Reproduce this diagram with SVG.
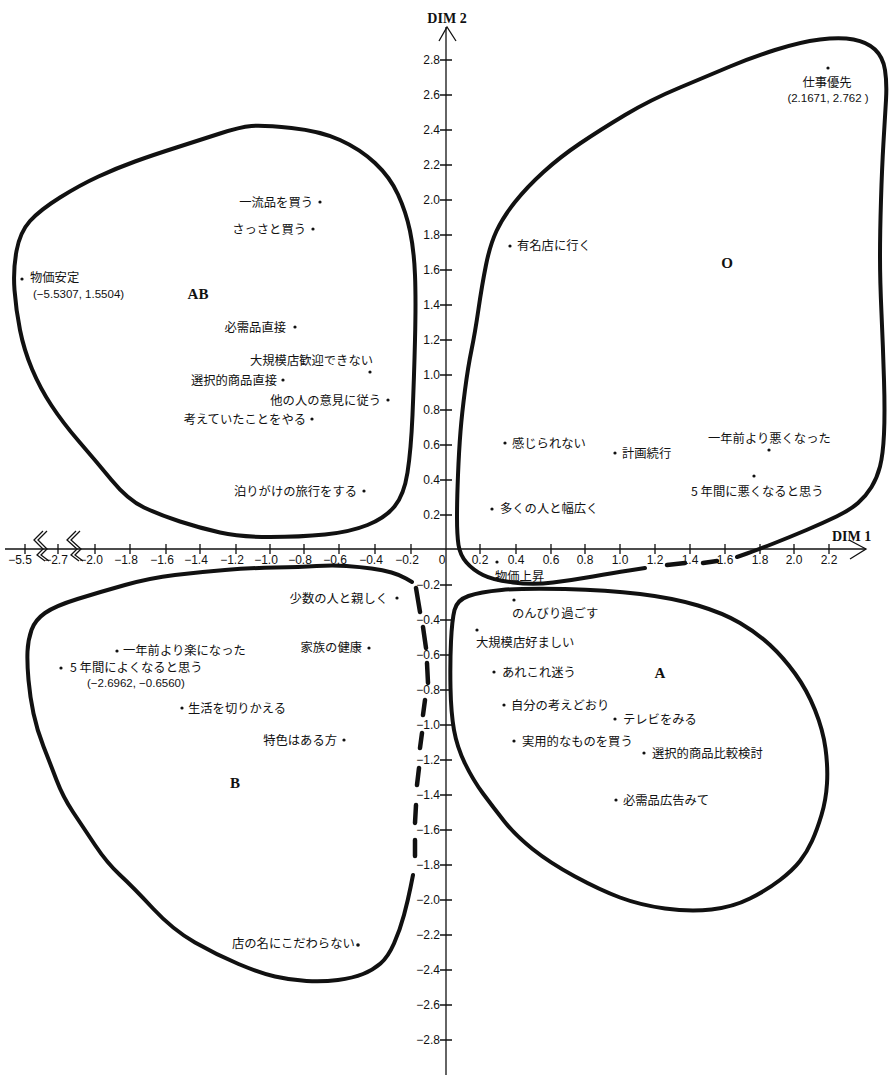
<svg xmlns="http://www.w3.org/2000/svg" width="891" height="1075" viewBox="0 0 891 1075">
<style>
.jp{font-family:"Noto Sans CJK JP","Liberation Sans",sans-serif;font-size:12.3px;fill:#111;dominant-baseline:central}
.num{font-family:"Liberation Sans","Noto Sans CJK JP",sans-serif;font-size:11.5px;fill:#111;dominant-baseline:central}
.tk{font-family:"Liberation Sans",sans-serif;font-size:12px;fill:#111;dominant-baseline:central}
.ty{text-anchor:end}
.tx{text-anchor:middle}
.big{font-family:"Liberation Serif",serif;font-weight:bold;font-size:15px;fill:#111;text-anchor:middle;dominant-baseline:central}
.dim{font-family:"Liberation Serif",serif;font-weight:bold;font-size:14px;fill:#111;dominant-baseline:central}
.ax{stroke:#111;stroke-width:1.3;fill:none}
.curve{stroke:#111;stroke-width:4;fill:none;stroke-linecap:round;stroke-linejoin:round}
.dash{stroke:#111;stroke-width:4.5;fill:none;stroke-linecap:round}
.dot{fill:#111}
.e{text-anchor:end}
.m{text-anchor:middle}
</style>
<rect width="891" height="1075" fill="#fff"/>
<g id="axes">
<line class="ax" x1="5" y1="549" x2="866" y2="549"/>
<line class="ax" x1="446" y1="27" x2="446" y2="1075"/>
<polyline class="ax" points="439,41 447,27 456,41"/>
<polyline class="ax" points="849,540 866,549 850,559"/>
<polyline class="ax" points="43,531 34,540 43,549 37,555 45,561"/>
<polyline class="ax" points="47,531 38,540 47,549 41,555 49,561"/>
<polyline class="ax" points="76,531 67,540 77,549 71,555 79,561"/>
<polyline class="ax" points="80,531 71,540 81,549 75,555 83,561"/>
<text class="dim" x="447" y="18" text-anchor="middle">DIM 2</text>
<text class="dim" x="832" y="536">DIM 1</text>
<path class="ax" d="M25,544V554M58,544V554M95,544V554M130,544V554M166,544V554M200,544V554M236,544V554M270,544V554M304,544V554M339,544V554M375,544V554M411,544V554M480,544V554M516,544V554M551,544V554M585,544V554M620,544V554M655,544V554M690,544V554M725,544V554M760,544V554M794,544V554M829,544V554"/>
<path class="ax" d="M440,60H452M440,95H452M440,130H452M440,165H452M440,200H452M440,235H452M440,270H452M440,305H452M440,340H452M440,375H452M440,410H452M440,445H452M440,480H452M440,515H452M440,585H452M440,620H452M440,655H452M440,690H452M440,725H452M440,760H452M440,795H452M440,830H452M440,865H452M440,900H452M440,935H452M440,970H452M440,1005H452M440,1040H452"/>
<g class="tk ty">
<text x="440" y="60">2.8</text><text x="440" y="95">2.6</text><text x="440" y="130">2.4</text><text x="440" y="165">2.2</text><text x="440" y="200">2.0</text><text x="440" y="235">1.8</text><text x="440" y="270">1.6</text><text x="440" y="305">1.4</text><text x="440" y="340">1.2</text><text x="440" y="375">1.0</text><text x="440" y="410">0.8</text><text x="440" y="445">0.6</text><text x="440" y="480">0.4</text><text x="440" y="515">0.2</text>
<text x="440" y="585">−0.2</text><text x="440" y="620">−0.4</text><text x="440" y="655">−0.6</text><text x="440" y="690">−0.8</text><text x="440" y="725">−1.0</text><text x="440" y="760">−1.2</text><text x="440" y="795">−1.4</text><text x="440" y="830">−1.6</text><text x="440" y="865">−1.8</text><text x="440" y="900">−2.0</text><text x="440" y="935">−2.2</text><text x="440" y="970">−2.4</text><text x="440" y="1005">−2.6</text><text x="440" y="1040">−2.8</text>
</g>
<g class="tk tx">
<text x="20" y="560">−5.5</text><text x="56" y="560">−2.7</text><text x="91" y="560">−2.0</text><text x="126" y="560">−1.8</text><text x="162" y="560">−1.6</text><text x="196" y="560">−1.4</text><text x="232" y="560">−1.2</text><text x="266" y="560">−1.0</text><text x="300" y="560">−0.8</text><text x="335" y="560">−0.6</text><text x="371" y="560">−0.4</text><text x="407" y="560">−0.2</text>
<text x="442" y="560">0</text>
<text x="480" y="560">0.2</text><text x="516" y="560">0.4</text><text x="551" y="560">0.6</text><text x="585" y="560">0.8</text><text x="620" y="560">1.0</text><text x="655" y="560">1.2</text><text x="690" y="560">1.4</text><text x="725" y="560">1.6</text><text x="760" y="560">1.8</text><text x="794" y="560">2.0</text><text x="829" y="560">2.2</text>
</g>
</g>
<g id="region-AB">
<path class="curve" d="M251.5,126 Q263,125 291.5,128 Q320,131 340,140 Q360,149 375,163 Q390,177 398,194.5 Q406,212 410,231 Q414,250 415,275 Q416,300 415,340 Q414,380 412.5,415 Q411,450 407.5,472.5 Q404,495 394.5,506.5 Q385,518 367.5,525 Q350,532 325,534.5 Q300,537 270,537 Q240,537 220,532.5 Q200,528 180,521.5 Q160,515 144,507.5 Q128,500 111.5,480 Q95,460 79,441.5 Q63,423 51.5,405.5 Q40,388 32,369 Q24,350 20,330 Q16,310 14.5,290 Q13,270 16.5,251 Q20,232 30,221 Q40,210 60,197.5 Q80,185 98.5,176.5 Q117,168 135,161.5 Q153,155 176.5,147.5 Q200,140 220,133.5 Q240,127 251.5,126 Z"/>
<text class="big" x="198" y="294">AB</text>
</g>
<g id="region-O">
<path class="curve" d="M737,557 L747,553.5 Q757,550 773.5,543.5 Q790,537 806.5,530 Q823,523 836.5,516.5 Q850,510 858,503 Q866,496 871.5,487 Q877,478 880,466.5 Q883,455 884,434 Q885,413 884,380 Q883,347 881.5,313.5 Q880,280 880,256.5 Q880,233 881,200 Q882,167 883.5,142 Q885,117 886,100 Q887,83 885,70 Q883,57 875,49.5 Q867,42 853.5,39.5 Q840,37 820,39.5 Q800,42 775,50 Q750,58 730,66.5 Q710,75 680,87.5 Q650,100 625,115 Q600,130 580,143.5 Q560,157 543.5,172 Q527,187 515,202 Q503,217 496.5,231 Q490,245 486,265 Q482,285 478.5,309 Q475,333 471.5,350 Q468,367 465,390 Q462,413 460.5,431.5 Q459,450 458,475 Q457,500 457,517.5 Q457,535 458.5,545 Q460,555 466.5,562.5 Q473,570 483,575 Q493,580 513,582.5 Q533,585 553,582.5 Q573,580 593,576.5 Q613,573 629,570.5 L645,568"/>
<path class="dash" d="M667,565 L685,563 M703,563 L717,561"/>
<text class="big" x="727" y="263">O</text>
</g>
<g id="region-A">
<path class="curve" d="M454.5,610 Q457,600 468.5,596 Q480,592 501.5,590 Q523,588 565,589 Q607,590 640,594 Q673,598 698,605.5 Q723,613 740,623 Q757,633 770,645 Q783,657 795,673.5 Q807,690 815,710 Q823,730 825.5,748.5 Q828,767 827,783.5 Q826,800 821.5,815 Q817,830 812,841 Q807,852 800,861 Q793,870 780,880 Q767,890 750,898.5 Q733,907 711.5,909.5 Q690,912 665,908.5 Q640,905 620,897.5 Q600,890 575,876.5 Q550,863 532.5,849 Q515,835 504,821 Q493,807 483,793.5 Q473,780 465,763.5 Q457,747 454,730 Q451,713 450.5,688 Q450,663 451,641.5 Q452,620 454.5,610 Z"/>
<text class="big" x="660" y="673">A</text>
</g>
<g id="region-B">
<path class="curve" d="M412,582 L406,578.5 Q400,575 391.5,572.5 Q383,570 371.5,568.5 Q360,567 346.5,566 Q333,565 316.5,566 Q300,567 275,567.5 Q250,568 225,570 Q200,572 175,575 Q150,578 125,585 Q100,592 77.5,599 Q55,606 45,613 Q35,620 31.5,630 Q28,640 27.5,651.5 Q27,663 28.5,680 Q30,697 33.5,713.5 Q37,730 43.5,746.5 Q50,763 56.5,780 Q63,797 73,812 Q83,827 95,845 Q107,863 120,875 Q133,887 153,908.5 Q173,930 195,942.5 Q217,955 238.5,964 Q260,973 275,976.5 Q290,980 306.5,981 Q323,982 338,980 Q353,978 363,974 Q373,970 380.5,963.5 Q388,957 394,943.5 Q400,930 404,915 Q408,900 410.5,887.5 L413,875"/>
<path class="dash" d="M416,588 L420,612 M423,627 L426,648 M427,663 L428,683 M425,700 L423,715 M422,733 L420,748 M419,768 L417,785 M416,805 L415,823 M415,840 L415,856"/>
<text class="big" x="235" y="783">B</text>
</g>
<g id="n-ichiryuhin"><text class="jp e" x="313" y="202">一流品を買う</text><circle class="dot" cx="320" cy="202" r="1.6"/></g>
<g id="n-sassato"><text class="jp e" x="306" y="229">さっさと買う</text><circle class="dot" cx="313" cy="229" r="1.6"/></g>
<g id="n-bukka-antei"><circle class="dot" cx="22" cy="279" r="1.6"/><text class="jp" x="30" y="277">物価安定</text><text class="num" x="33" y="294">(−5.5307, 1.5504)</text></g>
<g id="n-hitsujuhin-chokusetsu"><text class="jp e" x="286" y="327">必需品直接</text><circle class="dot" cx="295" cy="327" r="1.6"/></g>
<g id="n-daikibo-kangei"><text class="jp" x="250" y="360">大規模店歓迎できない</text><circle class="dot" cx="370" cy="372" r="1.6"/></g>
<g id="n-sentaku-chokusetsu"><text class="jp e" x="277" y="380">選択的商品直接</text><circle class="dot" cx="283" cy="380" r="1.6"/></g>
<g id="n-tanin-iken"><text class="jp e" x="381" y="400">他の人の意見に従う</text><circle class="dot" cx="388" cy="400" r="1.6"/></g>
<g id="n-kangaete"><text class="jp e" x="306" y="419">考えていたことをやる</text><circle class="dot" cx="312" cy="419" r="1.6"/></g>
<g id="n-tomarigake"><text class="jp e" x="357" y="491">泊りがけの旅行をする</text><circle class="dot" cx="364" cy="491" r="1.6"/></g>
<g id="n-shigoto"><circle class="dot" cx="828" cy="68" r="1.6"/><text class="jp m" x="827" y="82">仕事優先</text><text class="num m" x="828" y="98">(2.1671, 2.762 )</text></g>
<g id="n-yumeiten"><circle class="dot" cx="510" cy="246" r="1.6"/><text class="jp" x="517" y="245">有名店に行く</text></g>
<g id="n-kanjirarenai"><circle class="dot" cx="505" cy="443" r="1.6"/><text class="jp" x="512" y="443">感じられない</text></g>
<g id="n-keikaku"><circle class="dot" cx="615" cy="453" r="1.6"/><text class="jp" x="622" y="453">計画続行</text></g>
<g id="n-ichinen-waruku"><text class="jp" x="708" y="438">一年前より悪くなった</text><circle class="dot" cx="769" cy="450" r="1.6"/></g>
<g id="n-gonen-waruku"><circle class="dot" cx="754" cy="476" r="1.6"/><text class="jp" x="691" y="491">5 年間に悪くなると思う</text></g>
<g id="n-ooku"><circle class="dot" cx="492" cy="509" r="1.6"/><text class="jp" x="500" y="508">多くの人と幅広く</text></g>
<g id="n-bukka-josho"><circle class="dot" cx="497" cy="562" r="1.6"/><text class="jp" x="495" y="576">物価上昇</text></g>
<g id="n-nonbiri"><circle class="dot" cx="514" cy="600" r="1.6"/><text class="jp" x="512" y="613">のんびり過ごす</text></g>
<g id="n-daikibo-konomashii"><circle class="dot" cx="477" cy="630" r="1.6"/><text class="jp" x="476" y="642">大規模店好ましい</text></g>
<g id="n-arekore"><circle class="dot" cx="494" cy="672" r="1.6"/><text class="jp" x="502" y="672">あれこれ迷う</text></g>
<g id="n-jibun"><circle class="dot" cx="504" cy="705" r="1.6"/><text class="jp" x="511" y="705">自分の考えどおり</text></g>
<g id="n-terebi"><circle class="dot" cx="615" cy="719" r="1.6"/><text class="jp" x="623" y="719">テレビをみる</text></g>
<g id="n-jitsuyo"><circle class="dot" cx="514" cy="741" r="1.6"/><text class="jp" x="522" y="741">実用的なものを買う</text></g>
<g id="n-sentaku-hikaku"><circle class="dot" cx="644" cy="753" r="1.6"/><text class="jp" x="652" y="753">選択的商品比較検討</text></g>
<g id="n-hitsujuhin-kokoku"><circle class="dot" cx="616" cy="800" r="1.6"/><text class="jp" x="623" y="800">必需品広告みて</text></g>
<g id="n-shosu"><text class="jp e" x="388" y="598">少数の人と親しく</text><circle class="dot" cx="397" cy="598" r="1.6"/></g>
<g id="n-ichinen-raku"><circle class="dot" cx="117" cy="651" r="1.6"/><text class="jp" x="123" y="650">一年前より楽になった</text></g>
<g id="n-kazoku"><text class="jp e" x="362" y="647">家族の健康</text><circle class="dot" cx="369" cy="648" r="1.6"/></g>
<g id="n-gonen-yoku"><circle class="dot" cx="61" cy="668" r="1.6"/><text class="jp" x="70" y="667">5 年間によくなると思う</text><text class="num" x="87" y="683">(−2.6962, −0.6560)</text></g>
<g id="n-seikatsu"><circle class="dot" cx="182" cy="708" r="1.6"/><text class="jp" x="188" y="708">生活を切りかえる</text></g>
<g id="n-tokushoku"><text class="jp e" x="337" y="740">特色はある方</text><circle class="dot" cx="344" cy="740" r="1.6"/></g>
<g id="n-mise-no-na"><text class="jp" x="232" y="943">店の名にこだわらない</text><circle class="dot" cx="358" cy="945" r="1.8"/></g>
</svg>
